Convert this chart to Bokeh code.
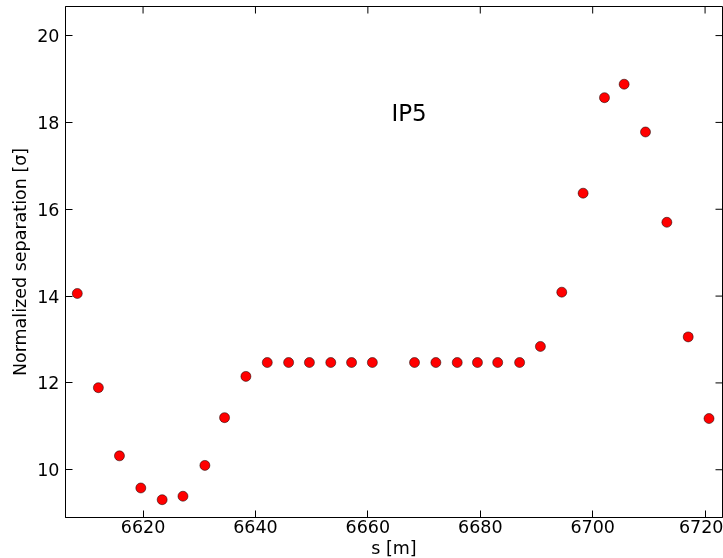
import math
from bokeh.plotting import figure
from bokeh.models import Range1d, FixedTicker, Label
from bokeh.embed import file_html
from bokeh.resources import INLINE

s_m = [6608.3, 6612.05, 6615.8, 6619.6, 6623.4, 6627.1, 6631.0, 6634.5, 6638.3,
       6642.1, 6645.9, 6649.6, 6653.4, 6657.1, 6660.8,
       6668.3, 6672.1, 6675.9, 6679.5, 6683.1, 6687.0,
       6690.7, 6694.5, 6698.3, 6702.1, 6705.6, 6709.4, 6713.2, 6717.0, 6720.7]
separation = [14.06, 11.89, 10.32, 9.58, 9.31, 9.39, 10.10, 11.20, 12.15,
              12.47, 12.47, 12.47, 12.47, 12.47, 12.47,
              12.47, 12.47, 12.47, 12.47, 12.47, 12.47,
              12.84, 14.09, 16.37, 18.57, 18.88, 17.78, 15.70, 13.06, 11.18]
x_ticks = [6620, 6640, 6660, 6680, 6700, 6720]
y_ticks = [10, 12, 14, 16, 18, 20]
x_lim = (6606.2, 6723.1)
y_lim = (8.90, 20.67)
annotation = "IP5"
x_label = "s [m]"
y_label = "Normalized separation [σ]"

FONT = "DejaVu Sans"

p = figure(width=723, height=560,
           x_range=Range1d(*x_lim), y_range=Range1d(*y_lim),
           output_backend="svg", toolbar_location=None,
           min_border_left=65, min_border_right=1, min_border_top=6, min_border_bottom=0)
# pin the figure to the window's top-left corner (the page keeps its 8px margin)
p.styles = {"position": "fixed", "left": "0px", "top": "0px"}
p.background_fill_color = "white"
p.border_fill_color = "white"
p.outline_line_color = "black"
p.outline_line_width = 1
p.grid.visible = False

for ax, ticks in ((p.xaxis[0], x_ticks), (p.yaxis[0], y_ticks)):
    ax.ticker = FixedTicker(ticks=ticks)
    ax.major_tick_in = 7
    ax.major_tick_out = 0
    ax.minor_tick_line_color = None
    ax.axis_line_color = "black"
    ax.major_tick_line_color = "black"
    ax.major_label_text_font = FONT
    ax.major_label_text_font_size = "17.5px"
    ax.major_label_text_color = "black"
    ax.axis_label_text_font = FONT
    ax.axis_label_text_font_size = "17.5px"
    ax.axis_label_text_font_style = "normal"
    ax.axis_label_text_color = "black"

p.xaxis[0].axis_label = x_label
p.yaxis[0].axis_label = y_label
p.xaxis[0].major_label_standoff = 2
p.xaxis[0].axis_label_standoff = 2
p.yaxis[0].major_label_standoff = 6
p.yaxis[0].axis_label_standoff = 4

# inward ticks on the top and right spines (half of each dash is clipped by the frame)
p.scatter(x_ticks, [y_lim[1]] * len(x_ticks), marker="dash", size=14, angle=math.pi / 2,
          line_color="black", line_width=1)
p.scatter([x_lim[1]] * len(y_ticks), y_ticks, marker="dash", size=14,
          line_color="black", line_width=1)

p.scatter(s_m, separation, size=10, fill_color="red", line_color="black", line_width=0.5)

p.add_layout(Label(x=6664.2, y=18.22, text=annotation, text_font=FONT, text_font_size="23px",
                   text_align="left", text_baseline="middle", text_color="black"))

open("out.html", "w").write(file_html(p, INLINE))
